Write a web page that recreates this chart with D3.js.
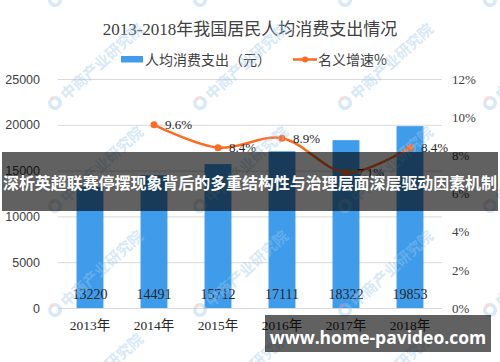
<!DOCTYPE html>
<html><head><meta charset="utf-8">
<script src="https://cdn.jsdelivr.net/npm/d3@7/dist/d3.min.js"></script>
<style>
html,body{margin:0;padding:0;background:#fff;}
svg{display:block;}
</style></head>
<body>
<script>
const years = ["2013年","2014年","2015年","2016年","2017年","2018年"];
const spending = [13220,14491,15712,17111,18322,19853];
const growth = [null,9.6,8.4,8.9,7.1,8.4];
const leftTicks = [0,5000,10000,15000,20000,25000];
const rightTicks = [0,2,4,6,8,10,12];
const title = "2013-2018年我国居民人均消费支出情况";
const legendLabels = ["人均消费支出（元）","名义增速%"];
const bannerText = "深析英超联赛停摆现象背后的多重结构性与治理层面深层驱动因素机制";
const siteText = "www.home-pavideo.com";
const watermarkText = "中商产业研究院";

const W = 500, H = 362;
const serif = "'Liberation Serif','Noto Sans CJK SC',serif";
const cjk = "'Noto Sans CJK SC','Liberation Sans',sans-serif";
const barColor = "#3e9ceb", lineColor = "#ff6a21";

const svg = d3.select("body").append("svg").attr("width", W).attr("height", H);

const x = d3.scaleBand().domain(years).range([58, 442]).paddingInner(0.58).paddingOuter(0.29);
const yL = d3.scaleLinear().domain([0, 25000]).range([308, 79]);
const yR = d3.scaleLinear().domain([0, 12]).range([308, 79]);

// title
svg.append("text").attr("x", 250).attr("y", 35).attr("text-anchor", "middle")
  .attr("font-family", serif).attr("font-size", 17).attr("fill", "#404040").text(title);

// legend
svg.append("rect").attr("x", 121).attr("y", 56).attr("width", 22).attr("height", 6.5).attr("fill", barColor);
svg.append("text").attr("x", 145).attr("y", 64.5).attr("font-family", cjk).attr("font-size", 14)
  .attr("fill", "#404040").text(legendLabels[0]);
svg.append("line").attr("x1", 293).attr("x2", 317).attr("y1", 59.5).attr("y2", 59.5)
  .attr("stroke", lineColor).attr("stroke-width", 2.5);
svg.append("circle").attr("cx", 305).attr("cy", 59.5).attr("r", 3).attr("fill", lineColor);
svg.append("text").attr("x", 318).attr("y", 64.5).attr("font-family", cjk).attr("font-size", 14)
  .attr("fill", "#404040").text(legendLabels[1]);

// gridlines
svg.append("g").selectAll("line").data(leftTicks).join("line")
  .attr("x1", 58).attr("x2", 442).attr("y1", d => yL(d) + 0.5).attr("y2", d => yL(d) + 0.5)
  .attr("stroke", "#d9d9d9").attr("stroke-width", 1);

// left axis
const gL = svg.append("g").attr("transform", "translate(40,0)")
  .call(d3.axisLeft(yL).tickValues(leftTicks).tickSize(0).tickPadding(0).tickFormat(d3.format("d")));
gL.select(".domain").remove();
gL.selectAll("text").attr("font-family", "'Liberation Sans',sans-serif").attr("font-size", 12.5).attr("fill", "#404040");

// right axis
const gR = svg.append("g").attr("transform", "translate(452,0)")
  .call(d3.axisRight(yR).tickValues(rightTicks).tickSize(0).tickPadding(0).tickFormat(d => d + "%"));
gR.select(".domain").remove();
gR.selectAll("text").attr("font-family", serif).attr("font-size", 13).attr("fill", "#404040");

// bars
svg.append("g").selectAll("rect").data(spending).join("rect")
  .attr("x", (d, i) => x(years[i])).attr("width", x.bandwidth())
  .attr("y", d => yL(d)).attr("height", d => yL(0) - yL(d)).attr("fill", barColor);

// x axis line (over bars)
svg.append("line").attr("x1", 58).attr("x2", 442).attr("y1", 308.5).attr("y2", 308.5)
  .attr("stroke", "#d9d9d9");

// bar value labels
svg.append("g").selectAll("text").data(spending).join("text")
  .attr("x", (d, i) => x(years[i]) + x.bandwidth() / 2).attr("y", 299)
  .attr("text-anchor", "middle").attr("font-family", serif).attr("font-size", 14)
  .attr("fill", "#262626").text(d => d);

// x labels
const gX = svg.append("g").attr("transform", "translate(0,320)")
  .call(d3.axisBottom(x).tickSize(0).tickPadding(0));
gX.select(".domain").remove();
gX.selectAll("text").attr("font-family", serif).attr("font-size", 13.5).attr("fill", "#262626").attr("dy", "0.71em");

// growth line
const pts = growth.map((g, i) => ({g, i})).filter(p => p.g !== null);
const lineGen = d3.line().x(p => x(years[p.i]) + x.bandwidth() / 2).y(p => yR(p.g)).curve(d3.curveCatmullRom.alpha(0.5));
svg.append("path").attr("d", lineGen(pts)).attr("fill", "none").attr("stroke", lineColor).attr("stroke-width", 2.5);
svg.append("g").selectAll("circle").data(pts).join("circle")
  .attr("cx", p => x(years[p.i]) + x.bandwidth() / 2).attr("cy", p => yR(p.g)).attr("r", 3.5).attr("fill", lineColor);
svg.append("g").selectAll("text").data(pts).join("text")
  .attr("x", p => x(years[p.i]) + x.bandwidth() / 2 + 11).attr("y", p => yR(p.g) + 4.5)
  .attr("font-family", serif).attr("font-size", 13).attr("fill", "#262626")
  .text(p => p.g.toFixed(1) + "%");

// watermarks
const wm = svg.append("g");
const rows = [0, 103, 206, 310, 413];
const cols = [-90, 55, 200, 345, 490];
rows.forEach(ry => cols.forEach(cx => {
  const g = wm.append("g").attr("transform", `translate(${cx},${ry}) rotate(-42)`).attr("opacity", 0.4);
  const arc = d3.arc().innerRadius(3.5).outerRadius(7);
  g.append("path").attr("d", arc({startAngle: 0.6, endAngle: 2 * Math.PI - 0.3})).attr("fill", "#9cc8ea");
  g.append("path").attr("d", arc({startAngle: -0.3, endAngle: 0.6})).attr("fill", "#f0a890");
  g.append("text").attr("x", 10).attr("y", 6).attr("font-family", cjk).attr("font-weight", "bold")
    .attr("font-size", 15).attr("fill", "#9cc8ea").text(watermarkText);
}));

// banners
svg.append("rect").attr("x", 2).attr("y", 152).attr("width", 496).attr("height", 59).attr("fill", "rgba(0,0,0,0.62)");
svg.append("text").attr("x", 250).attr("y", 189).attr("text-anchor", "middle")
  .attr("font-family", cjk).attr("font-weight", "bold").attr("font-size", 16).attr("fill", "#fff")
  .attr("textLength", 494).attr("lengthAdjust", "spacingAndGlyphs").text(bannerText);
svg.append("rect").attr("x", 265).attr("y", 315).attr("width", 226).attr("height", 37).attr("fill", "rgba(0,0,0,0.62)");
svg.append("text").attr("x", 378).attr("y", 343.5).attr("text-anchor", "middle")
  .attr("font-family", "'Open Sans','Noto Sans',sans-serif").attr("font-weight", "bold").attr("font-size", 17.5)
  .attr("fill", "#fff").text(siteText);
</script>
</body></html>
